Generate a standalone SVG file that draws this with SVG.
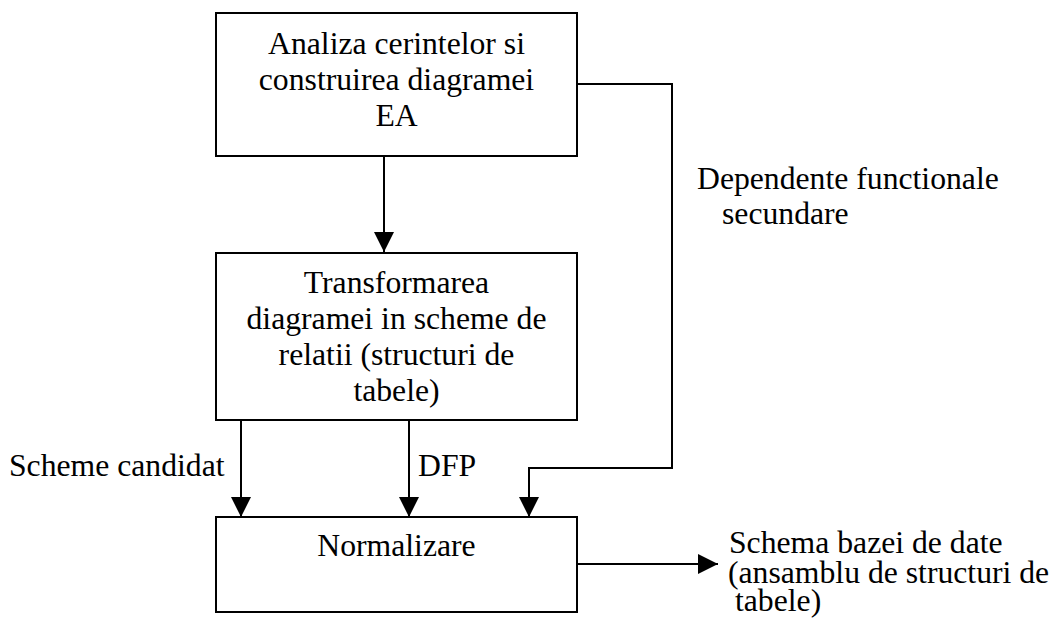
<svg xmlns="http://www.w3.org/2000/svg" width="1055" height="632" viewBox="0 0 1055 632">
<style>
.box{fill:#fff;stroke:#000;stroke-width:2}
.ln{fill:none;stroke:#000;stroke-width:2}
text{font-family:"Liberation Serif","Times New Roman",serif;font-size:31.7px;fill:#000}
.c{text-anchor:middle}
</style>
<defs>
<marker id="ah" markerWidth="20" markerHeight="20" viewBox="0 0 20 20" refX="20" refY="10" orient="auto" markerUnits="userSpaceOnUse">
<path d="M0,0 L20,10 L0,20 Z" fill="#000"/>
</marker>
</defs>
<rect width="1055" height="632" fill="#fff"/>
<g id="connectors">
<line class="ln" x1="384" y1="157" x2="384" y2="252" marker-end="url(#ah)"/>
<line class="ln" x1="241" y1="421" x2="241" y2="517" marker-end="url(#ah)"/>
<line class="ln" x1="409" y1="421" x2="409" y2="517" marker-end="url(#ah)"/>
<polyline class="ln" points="577,84 672,84 672,468 529,468 529,517" marker-end="url(#ah)"/>
<line class="ln" x1="577" y1="564" x2="718" y2="564" marker-end="url(#ah)"/>
<text x="9" y="476">Scheme candidat</text>
<text x="418" y="476">DFP</text>
<text x="697" y="189">Dependente functionale</text>
<text x="722" y="224">secundare</text>
</g>
<g id="n1">
<rect class="box" x="216" y="13" width="361" height="143"/>
<text class="c" x="396.5" y="54">Analiza cerintelor si</text>
<text class="c" x="396.5" y="90">construirea diagramei</text>
<text class="c" x="396.5" y="126">EA</text>
</g>
<g id="n2">
<rect class="box" x="216" y="253" width="361" height="167"/>
<text class="c" x="396.5" y="293">Transformarea</text>
<text class="c" x="396.5" y="329">diagramei in scheme de</text>
<text class="c" x="396.5" y="365">relatii (structuri de</text>
<text class="c" x="396.5" y="401">tabele)</text>
</g>
<g id="n3">
<rect class="box" x="216" y="517" width="361" height="95"/>
<text class="c" x="396.5" y="556">Normalizare</text>
</g>
<g id="out">
<text x="729" y="553">Schema bazei de date</text>
<text x="728" y="583">(ansamblu de structuri de</text>
<text x="735" y="611">tabele)</text>
</g>
</svg>
